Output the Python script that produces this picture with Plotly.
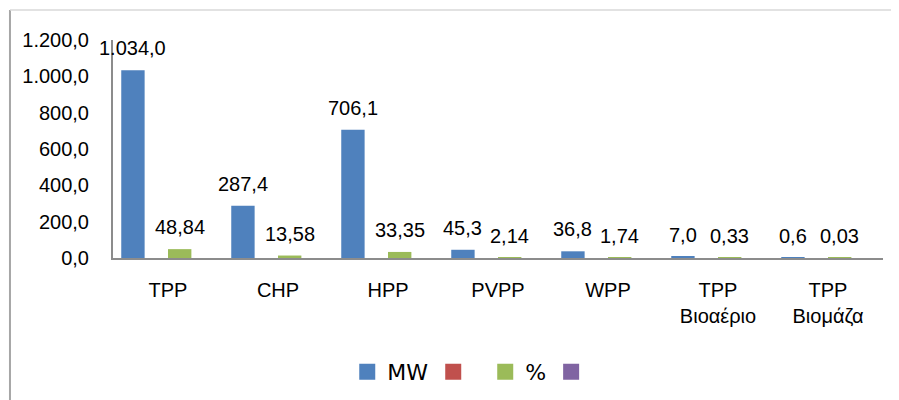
import plotly.graph_objects as go

categories = ["TPP", "CHP", "HPP", "PVPP", "WPP", "TPP<br>Βιοαέριο", "TPP<br>Βιομάζα"]
mw_values = [1034.0, 287.4, 706.1, 45.3, 36.8, 7.0, 0.6]
pct_values = [48.84, 13.58, 33.35, 2.14, 1.74, 0.33, 0.03]
empty_values = [None] * len(categories)

y_ticks = [0, 200, 400, 600, 800, 1000, 1200]

BLUE, RED, GREEN, PURPLE = "#4F81BD", "#C0504D", "#9BBB59", "#8064A2"
FONT = "Liberation Sans, Arial, sans-serif"

x = list(range(len(categories)))
bargap = 0.15
n_series = 4
bw = (1 - bargap) / n_series

fig = go.Figure()
series = [("MW", mw_values, BLUE), (" ", empty_values, RED),
          ("%", pct_values, GREEN), ("  ", empty_values, PURPLE)]
for name, vals, col in series:
    fig.add_trace(go.Bar(x=x, y=vals, name=name, marker_color=col,
                         marker_line_width=0, showlegend=False))
for name, vals, col in series:
    fig.add_trace(go.Scatter(x=[None], y=[None], mode="markers", name=name,
                             marker=dict(symbol="square", size=18, color=col)))

# data labels
for k, (vals, fmt) in enumerate([(mw_values, ",.1f"), (pct_values, ".2f")]):
    idx = 0 if k == 0 else 2
    off = (-1.5 + idx) * bw
    for i, v in enumerate(vals):
        txt = format(v, fmt).replace(",", "X").replace(".", ",").replace("X", ".")
        fig.add_annotation(x=i + off, y=v, text=txt, showarrow=False,
                           yanchor="bottom", yshift=9,
                           font=dict(family=FONT, size=20, color="#000"))

# outer frame lines
fig.add_shape(type="line", xref="paper", yref="paper", x0=-0.1338, x1=-0.1338,
              y0=1.1376, y1=-0.7, line=dict(color="#a6a6a6", width=2))
fig.add_shape(type="line", xref="paper", yref="paper", x0=-0.1338, x1=1.1,
              y0=1.1376, y1=1.1376, line=dict(color="#d9d9d9", width=1.5))

fig.update_layout(
    width=891, height=392,
    margin=dict(l=105, r=16, t=32, b=142, autoexpand=False),
    plot_bgcolor="white", paper_bgcolor="white",
    barmode="group", bargap=bargap, bargroupgap=0,
    font=dict(family=FONT, size=20, color="#000"),
    legend=dict(orientation="h", x=0.475, xanchor="center", y=-0.523, yanchor="middle",
                font=dict(family="DejaVu Sans, sans-serif", size=22),
                itemwidth=30, tracegroupgap=0),
    xaxis=dict(range=[-0.5, len(categories) - 0.5], tickvals=x, ticktext=categories,
               showline=True, linecolor="#8c8c8c", linewidth=2, showgrid=False,
               zeroline=False, ticks="", ticklabelstandoff=13, automargin=False,
               tickfont=dict(family=FONT, size=20)),
    yaxis=dict(range=[0, 1200], tickvals=y_ticks, tickformat=",.1f",
               showline=True, linecolor="#8c8c8c", linewidth=2, showgrid=False,
               zeroline=False, ticks="", ticklabelstandoff=18, automargin=False,
               tickfont=dict(family=FONT, size=20)),
    separators=",.",
)

fig.write_html("out.html")
